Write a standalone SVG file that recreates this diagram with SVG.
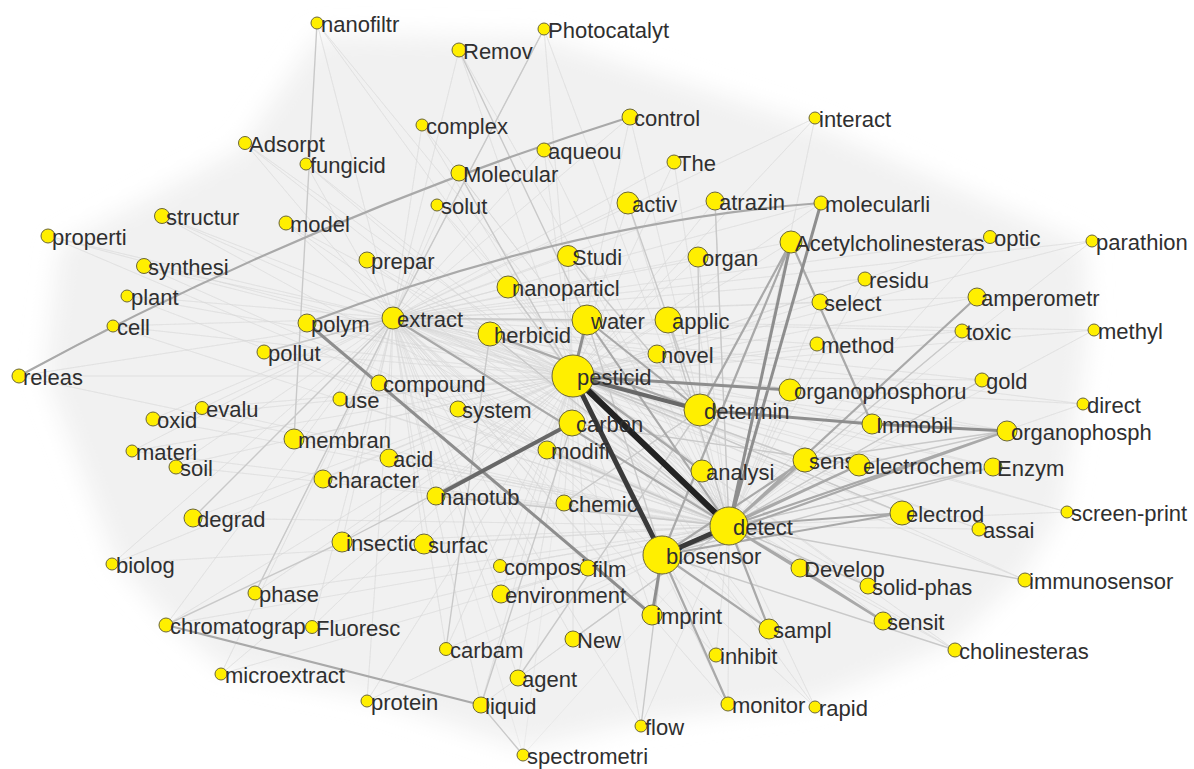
<svg xmlns="http://www.w3.org/2000/svg" width="1194" height="769" viewBox="0 0 1194 769">
<defs>
<filter id="blur" x="-20%" y="-20%" width="140%" height="140%"><feGaussianBlur stdDeviation="12"/></filter>
<style>
.n circle{fill:#ffef00;stroke:#6b6638;stroke-width:1}
.n text{font-family:"Liberation Sans",Arial,sans-serif;font-size:22px;fill:#2f2f2f}
.edges path,.edges line{fill:none;stroke-linecap:round;stroke-linejoin:round}
.hz{stroke:#d6d6d6;stroke-width:0.7;stroke-opacity:0.5}
.ek{stroke:#222;stroke-width:6}
.ed{stroke:#3a3a3a;stroke-width:5}
.em{stroke:#686868;stroke-width:4}
.eg{stroke:#8e8e8e;stroke-width:3}
.el{stroke:#a9a9a9;stroke-width:2.2}
.ef{stroke:#c9c9c9;stroke-width:1.4}
</style>
</defs>
<rect width="1194" height="769" fill="#ffffff"/>
<polygon points="45,372 60,245 240,150 318,35 542,38 812,125 1085,245 1088,330 1078,405 1062,512 1020,578 950,645 812,702 640,722 523,748 365,696 222,668 168,620 115,560" fill="#f1f1f1" filter="url(#blur)"/>
<g id="connectors" class="edges">
<path class="hz" d="M573 376L317 23 573 376 544 29 573 376 459 50 573 376 630 117 573 376 815 118 573 376 422 125 573 376 245 143 573 376 544 150 573 376 306 164 573 376 674 162 573 376 459 173 573 376 628 203 573 376 715 201 573 376 821 203 573 376 437 205 573 376 162 216 573 376 286 223 573 376 48 236 573 376 791 242 573 376 990 237 573 376 1092 241 573 376 568 256 573 376 698 257 573 376 367 260 573 376 144 266 573 376 865 279 573 376 508 287 573 376 977 297 573 376 127 296 573 376 820 302 573 376 393 318 573 376 587 320 573 376 668 320 573 376 307 323 573 376 113 326 573 376 490 334 573 376 962 331 573 376 1094 330 573 376 817 344 573 376 264 352 573 376 657 354 573 376 19 376 573 376 379 383 573 376 790 390 573 376 982 380 573 376 340 399 573 376 700 410 573 376 458 409 573 376 1083 404 573 376 153 419 573 376 202 408 573 376 572 423 573 376 872 424 573 376 1007 431 573 376 294 439 573 376 132 451 573 376 389 458 573 376 547 450 573 376 176 466 573 376 805 460 573 376 859 465 573 376 993 467 573 376 702 471 573 376 323 479 573 376 436 496 573 376 564 503 573 376 193 518 573 376 729 526 573 376 902 513 573 376 979 529 573 376 1067 512 573 376 342 542 573 376 424 544 573 376 662 555 573 376 800 568 573 376 112 564 573 376 500 566 573 376 588 568 573 376 868 586 573 376 1025 580 573 376 255 593 573 376 501 594 573 376 652 615 573 376 883 621 573 376 166 625 573 376 312 627 573 376 769 629 573 376 573 639 573 376 955 650 573 376 446 649 573 376 716 655 573 376 221 674 573 376 518 678 573 376 367 701 573 376 481 705 573 376 728 704 573 376 815 707 573 376 641 726 573 376 523 755"/>
<path class="hz" d="M729 526L317 23 729 526 544 29 729 526 459 50 729 526 630 117 729 526 815 118 729 526 422 125 729 526 245 143 729 526 544 150 729 526 306 164 729 526 674 162 729 526 459 173 729 526 628 203 729 526 715 201 729 526 437 205 729 526 162 216 729 526 286 223 729 526 48 236 729 526 990 237 729 526 1092 241 729 526 568 256 729 526 698 257 729 526 367 260 729 526 144 266 729 526 865 279 729 526 508 287 729 526 127 296 729 526 820 302 729 526 587 320 729 526 668 320 729 526 113 326 729 526 490 334 729 526 962 331 729 526 1094 330 729 526 817 344 729 526 264 352 729 526 657 354 729 526 19 376 729 526 379 383 729 526 790 390 729 526 982 380 729 526 340 399 729 526 458 409 729 526 1083 404 729 526 153 419 729 526 202 408 729 526 572 423 729 526 872 424 729 526 294 439 729 526 132 451 729 526 389 458 729 526 547 450 729 526 176 466 729 526 859 465 729 526 993 467 729 526 702 471 729 526 323 479 729 526 436 496 729 526 564 503 729 526 193 518 729 526 979 529 729 526 1067 512 729 526 342 542 729 526 424 544 729 526 800 568 729 526 112 564 729 526 500 566 729 526 588 568 729 526 868 586 729 526 255 593 729 526 501 594 729 526 883 621 729 526 166 625 729 526 312 627 729 526 573 639 729 526 955 650 729 526 446 649 729 526 716 655 729 526 221 674 729 526 518 678 729 526 367 701 729 526 481 705 729 526 728 704 729 526 815 707 729 526 641 726 729 526 523 755"/>
<path class="hz" d="M393 318L317 23 393 318 544 29 393 318 459 50 393 318 630 117 393 318 815 118 393 318 422 125 393 318 245 143 393 318 544 150 393 318 306 164 393 318 674 162 393 318 459 173 393 318 628 203 393 318 715 201 393 318 821 203 393 318 437 205 393 318 162 216 393 318 286 223 393 318 48 236 393 318 791 242 393 318 990 237 393 318 1092 241 393 318 568 256 393 318 698 257 393 318 367 260 393 318 144 266 393 318 865 279 393 318 508 287 393 318 977 297 393 318 127 296 393 318 820 302 393 318 668 320 393 318 307 323 393 318 113 326 393 318 962 331 393 318 1094 330 393 318 817 344 393 318 264 352 393 318 657 354 393 318 19 376 393 318 379 383 393 318 790 390 393 318 982 380 393 318 340 399 393 318 700 410 393 318 458 409 393 318 1083 404 393 318 153 419 393 318 202 408 393 318 872 424 393 318 1007 431 393 318 294 439 393 318 132 451 393 318 389 458 393 318 547 450 393 318 176 466 393 318 805 460 393 318 859 465 393 318 993 467 393 318 702 471 393 318 323 479 393 318 436 496 393 318 564 503 393 318 193 518 393 318 902 513 393 318 979 529 393 318 1067 512 393 318 342 542 393 318 424 544 393 318 662 555 393 318 800 568 393 318 112 564 393 318 500 566 393 318 588 568 393 318 868 586 393 318 1025 580 393 318 255 593 393 318 501 594 393 318 652 615 393 318 883 621 393 318 166 625 393 318 312 627 393 318 769 629 393 318 573 639 393 318 955 650 393 318 446 649 393 318 716 655 393 318 221 674 393 318 518 678 393 318 367 701 393 318 481 705 393 318 728 704 393 318 815 707 393 318 641 726 393 318 523 755"/>
<path class="ef" d="M662 555L955 650M729 526L1025 580M317 23L294 439M544 29L393 318M459 50L587 320M193 518L393 318M393 318L587 320M490 334L729 526M668 320L729 526M572 423L859 465M993 467L729 526M993 467L662 555M573 376L902 513M573 376L805 460M587 320L662 555M508 287L573 376M459 173L573 376M255 593L393 318M166 625L342 542M342 542L572 423M446 649L490 334M481 705L572 423M518 678L700 410M523 755L481 705M641 726L662 555M573 639L729 526M962 331L729 526M982 380L729 526M868 586L729 526M1007 431L859 465M1007 431L805 460M547 450L729 526M564 503L700 410M436 496L729 526M19 376L113 326M264 352L393 318M698 257L700 410M628 203L700 410M568 256L700 410M715 201L729 526"/>
<path class="el" d="M393 318L729 526M791 242L662 555M791 242L700 410M791 242L872 424M977 297L729 526M1007 431L729 526M1007 431L662 555M729 526L769 629M662 555L769 629M729 526L883 621M729 526L902 513M662 555L902 513M805 460L729 526M805 460L662 555M859 465L729 526M859 465L662 555M587 320L700 410M587 320L729 526M490 334L700 410M573 376L702 471M662 555L728 704M729 526L800 568M800 568L883 621M166 625L481 705M19 376Q310 218 630 117M307 323Q570 222 821 203"/>
<path class="eg" d="M573 376L790 390M307 323L652 615M573 376L587 320M872 424L1007 431M700 410L872 424M821 203L729 526M662 555L652 615M791 242L729 526"/>
<path class="em" d="M573 376L700 410M572 423L436 496"/>
<path class="ed" d="M573 376L662 555M662 555L729 526"/>
<path class="ek" d="M573 376L729 526"/>
</g>
<g id="node-nanofiltr" class="n"><circle cx="317" cy="23" r="6"/><text x="321" y="32">nanofiltr</text></g>
<g id="node-Photocatalyt" class="n"><circle cx="544" cy="29" r="6"/><text x="548" y="38">Photocatalyt</text></g>
<g id="node-Remov" class="n"><circle cx="459" cy="50" r="7"/><text x="463" y="59">Remov</text></g>
<g id="node-control" class="n"><circle cx="630" cy="117" r="8"/><text x="634" y="126">control</text></g>
<g id="node-interact" class="n"><circle cx="815" cy="118" r="6"/><text x="819" y="127">interact</text></g>
<g id="node-complex" class="n"><circle cx="422" cy="125" r="6"/><text x="426" y="134">complex</text></g>
<g id="node-Adsorpt" class="n"><circle cx="245" cy="143" r="6.5"/><text x="249" y="152">Adsorpt</text></g>
<g id="node-aqueou" class="n"><circle cx="544" cy="150" r="7"/><text x="548" y="159">aqueou</text></g>
<g id="node-fungicid" class="n"><circle cx="306" cy="164" r="6"/><text x="310" y="173">fungicid</text></g>
<g id="node-The" class="n"><circle cx="674" cy="162" r="7"/><text x="678" y="171">The</text></g>
<g id="node-Molecular" class="n"><circle cx="459" cy="173" r="8"/><text x="463" y="182">Molecular</text></g>
<g id="node-activ" class="n"><circle cx="628" cy="203" r="11"/><text x="632" y="212">activ</text></g>
<g id="node-atrazin" class="n"><circle cx="715" cy="201" r="9"/><text x="719" y="210">atrazin</text></g>
<g id="node-molecularli" class="n"><circle cx="821" cy="203" r="7"/><text x="825" y="212">molecularli</text></g>
<g id="node-solut" class="n"><circle cx="437" cy="205" r="6"/><text x="441" y="214">solut</text></g>
<g id="node-structur" class="n"><circle cx="162" cy="216" r="7.5"/><text x="166" y="225">structur</text></g>
<g id="node-model" class="n"><circle cx="286" cy="223" r="7"/><text x="290" y="232">model</text></g>
<g id="node-properti" class="n"><circle cx="48" cy="236" r="7"/><text x="52" y="245">properti</text></g>
<g id="node-Acetylcholinesteras" class="n"><circle cx="791" cy="242" r="11"/><text x="795" y="251">Acetylcholinesteras</text></g>
<g id="node-optic" class="n"><circle cx="990" cy="237" r="6.5"/><text x="994" y="246">optic</text></g>
<g id="node-parathion" class="n"><circle cx="1092" cy="241" r="6"/><text x="1096" y="250">parathion</text></g>
<g id="node-Studi" class="n"><circle cx="568" cy="256" r="10.5"/><text x="572" y="265">Studi</text></g>
<g id="node-organ" class="n"><circle cx="698" cy="257" r="10"/><text x="702" y="266">organ</text></g>
<g id="node-prepar" class="n"><circle cx="367" cy="260" r="8"/><text x="371" y="269">prepar</text></g>
<g id="node-synthesi" class="n"><circle cx="144" cy="266" r="7.5"/><text x="148" y="275">synthesi</text></g>
<g id="node-residu" class="n"><circle cx="865" cy="279" r="7"/><text x="869" y="288">residu</text></g>
<g id="node-nanoparticl" class="n"><circle cx="508" cy="287" r="11"/><text x="512" y="296">nanoparticl</text></g>
<g id="node-amperometr" class="n"><circle cx="977" cy="297" r="9"/><text x="981" y="306">amperometr</text></g>
<g id="node-plant" class="n"><circle cx="127" cy="296" r="6"/><text x="131" y="305">plant</text></g>
<g id="node-select" class="n"><circle cx="820" cy="302" r="8"/><text x="824" y="311">select</text></g>
<g id="node-extract" class="n"><circle cx="393" cy="318" r="11"/><text x="397" y="327">extract</text></g>
<g id="node-water" class="n"><circle cx="587" cy="320" r="15"/><text x="591" y="329">water</text></g>
<g id="node-applic" class="n"><circle cx="668" cy="320" r="13"/><text x="672" y="329">applic</text></g>
<g id="node-polym" class="n"><circle cx="307" cy="323" r="9"/><text x="311" y="332">polym</text></g>
<g id="node-cell" class="n"><circle cx="113" cy="326" r="6"/><text x="117" y="335">cell</text></g>
<g id="node-herbicid" class="n"><circle cx="490" cy="334" r="12"/><text x="494" y="343">herbicid</text></g>
<g id="node-toxic" class="n"><circle cx="962" cy="331" r="7"/><text x="966" y="340">toxic</text></g>
<g id="node-methyl" class="n"><circle cx="1094" cy="330" r="6"/><text x="1098" y="339">methyl</text></g>
<g id="node-method" class="n"><circle cx="817" cy="344" r="7"/><text x="821" y="353">method</text></g>
<g id="node-pollut" class="n"><circle cx="264" cy="352" r="7"/><text x="268" y="361">pollut</text></g>
<g id="node-novel" class="n"><circle cx="657" cy="354" r="9"/><text x="661" y="363">novel</text></g>
<g id="node-pesticid" class="n"><circle cx="573" cy="376" r="21"/><text x="577" y="385">pesticid</text></g>
<g id="node-releas" class="n"><circle cx="19" cy="376" r="7"/><text x="23" y="385">releas</text></g>
<g id="node-compound" class="n"><circle cx="379" cy="383" r="8"/><text x="383" y="392">compound</text></g>
<g id="node-organophosphoru" class="n"><circle cx="790" cy="390" r="11"/><text x="794" y="399">organophosphoru</text></g>
<g id="node-gold" class="n"><circle cx="982" cy="380" r="7"/><text x="986" y="389">gold</text></g>
<g id="node-use" class="n"><circle cx="340" cy="399" r="7"/><text x="344" y="408">use</text></g>
<g id="node-determin" class="n"><circle cx="700" cy="410" r="16"/><text x="704" y="419">determin</text></g>
<g id="node-system" class="n"><circle cx="458" cy="409" r="8"/><text x="462" y="418">system</text></g>
<g id="node-direct" class="n"><circle cx="1083" cy="404" r="6"/><text x="1087" y="413">direct</text></g>
<g id="node-oxid" class="n"><circle cx="153" cy="419" r="7"/><text x="157" y="428">oxid</text></g>
<g id="node-evalu" class="n"><circle cx="202" cy="408" r="6.5"/><text x="206" y="417">evalu</text></g>
<g id="node-carbon" class="n"><circle cx="572" cy="423" r="13"/><text x="576" y="432">carbon</text></g>
<g id="node-Immobil" class="n"><circle cx="872" cy="424" r="10"/><text x="876" y="433">Immobil</text></g>
<g id="node-organophosph" class="n"><circle cx="1007" cy="431" r="10"/><text x="1011" y="440">organophosph</text></g>
<g id="node-membran" class="n"><circle cx="294" cy="439" r="10"/><text x="298" y="448">membran</text></g>
<g id="node-materi" class="n"><circle cx="132" cy="451" r="6"/><text x="136" y="460">materi</text></g>
<g id="node-acid" class="n"><circle cx="389" cy="458" r="9"/><text x="393" y="467">acid</text></g>
<g id="node-modifi" class="n"><circle cx="547" cy="450" r="9"/><text x="551" y="459">modifi</text></g>
<g id="node-soil" class="n"><circle cx="176" cy="467" r="7"/><text x="180" y="476">soil</text></g>
<g id="node-sensor" class="n"><circle cx="805" cy="460" r="12"/><text x="809" y="469">sens</text></g>
<g id="node-electrochem" class="n"><circle cx="859" cy="465" r="11"/><text x="863" y="474">electrochem</text></g>
<g id="node-Enzym" class="n"><circle cx="993" cy="467" r="9"/><text x="997" y="476">Enzym</text></g>
<g id="node-analysi" class="n"><circle cx="702" cy="471" r="11"/><text x="706" y="480">analysi</text></g>
<g id="node-character" class="n"><circle cx="323" cy="479" r="9"/><text x="327" y="488">character</text></g>
<g id="node-nanotub" class="n"><circle cx="436" cy="496" r="9"/><text x="440" y="505">nanotub</text></g>
<g id="node-chemic" class="n"><circle cx="564" cy="503" r="8"/><text x="568" y="512">chemic</text></g>
<g id="node-degrad" class="n"><circle cx="193" cy="518" r="9"/><text x="197" y="527">degrad</text></g>
<g id="node-detect" class="n"><circle cx="729" cy="526" r="19"/><text x="733" y="535">detect</text></g>
<g id="node-electrod" class="n"><circle cx="902" cy="513" r="12"/><text x="906" y="522">electrod</text></g>
<g id="node-assai" class="n"><circle cx="979" cy="529" r="7"/><text x="983" y="538">assai</text></g>
<g id="node-screen-print" class="n"><circle cx="1067" cy="512" r="6"/><text x="1071" y="521">screen-print</text></g>
<g id="node-insectic" class="n"><circle cx="342" cy="542" r="10"/><text x="346" y="551">insectic</text></g>
<g id="node-surfac" class="n"><circle cx="424" cy="544" r="10"/><text x="428" y="553">surfac</text></g>
<g id="node-biosensor" class="n"><circle cx="662" cy="555" r="19"/><text x="666" y="564">biosensor</text></g>
<g id="node-Develop" class="n"><circle cx="800" cy="568" r="9"/><text x="804" y="577">Develop</text></g>
<g id="node-biolog" class="n"><circle cx="112" cy="564" r="6"/><text x="116" y="573">biolog</text></g>
<g id="node-composit" class="n"><circle cx="500" cy="566" r="6.5"/><text x="504" y="575">composit</text></g>
<g id="node-film" class="n"><circle cx="588" cy="568" r="8"/><text x="592" y="577">film</text></g>
<g id="node-solid-phas" class="n"><circle cx="868" cy="586" r="8"/><text x="872" y="595">solid-phas</text></g>
<g id="node-immunosensor" class="n"><circle cx="1025" cy="580" r="7"/><text x="1029" y="589">immunosensor</text></g>
<g id="node-phase" class="n"><circle cx="255" cy="593" r="7"/><text x="259" y="602">phase</text></g>
<g id="node-environment" class="n"><circle cx="501" cy="594" r="9"/><text x="505" y="603">environment</text></g>
<g id="node-imprint" class="n"><circle cx="652" cy="615" r="10"/><text x="656" y="624">imprint</text></g>
<g id="node-sensit" class="n"><circle cx="883" cy="621" r="9"/><text x="887" y="630">sensit</text></g>
<g id="node-chromatograp" class="n"><circle cx="166" cy="625" r="7"/><text x="170" y="634">chromatograp</text></g>
<g id="node-Fluoresc" class="n"><circle cx="312" cy="627" r="6.5"/><text x="316" y="636">Fluoresc</text></g>
<g id="node-sampl" class="n"><circle cx="769" cy="629" r="10"/><text x="773" y="638">sampl</text></g>
<g id="node-New" class="n"><circle cx="573" cy="639" r="8"/><text x="577" y="648">New</text></g>
<g id="node-cholinesteras" class="n"><circle cx="955" cy="650" r="7"/><text x="959" y="659">cholinesteras</text></g>
<g id="node-carbam" class="n"><circle cx="446" cy="649" r="6.5"/><text x="450" y="658">carbam</text></g>
<g id="node-inhibit" class="n"><circle cx="716" cy="655" r="7"/><text x="720" y="664">inhibit</text></g>
<g id="node-microextract" class="n"><circle cx="221" cy="674" r="6"/><text x="225" y="683">microextract</text></g>
<g id="node-agent" class="n"><circle cx="518" cy="678" r="8"/><text x="522" y="687">agent</text></g>
<g id="node-protein" class="n"><circle cx="367" cy="701" r="6"/><text x="371" y="710">protein</text></g>
<g id="node-liquid" class="n"><circle cx="481" cy="705" r="8"/><text x="485" y="714">liquid</text></g>
<g id="node-monitor" class="n"><circle cx="728" cy="704" r="7"/><text x="732" y="713">monitor</text></g>
<g id="node-rapid" class="n"><circle cx="815" cy="707" r="6"/><text x="819" y="716">rapid</text></g>
<g id="node-flow" class="n"><circle cx="641" cy="726" r="6"/><text x="645" y="735">flow</text></g>
<g id="node-spectrometri" class="n"><circle cx="523" cy="755" r="6"/><text x="527" y="764">spectrometri</text></g>
</svg>
